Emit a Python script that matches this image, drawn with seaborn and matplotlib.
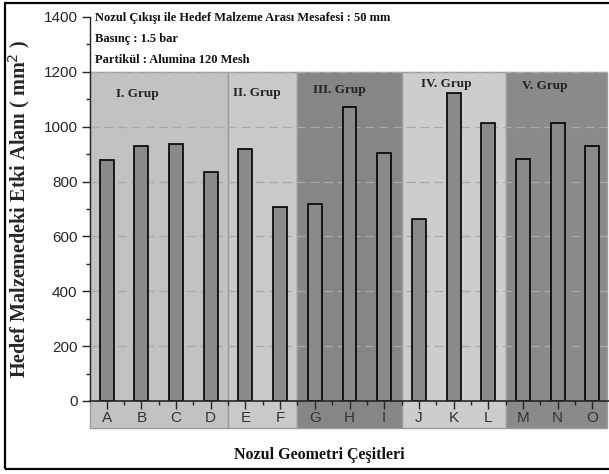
import matplotlib
matplotlib.use("Agg")
import matplotlib.pyplot as plt
from matplotlib.patches import Rectangle
from matplotlib.ticker import MultipleLocator
import seaborn as sns
import pandas as pd

categories = ["A", "B", "C", "D", "E", "F", "G", "H", "I", "J", "K", "L", "M", "N", "O"]
values = [880, 928, 938, 834, 920, 709, 718, 1071, 904, 665, 1123, 1015, 882, 1015, 931]
group_names = ["I. Grup", "II. Grup", "III. Grup", "IV. Grup", "V. Grup"]
group_sizes = [4, 2, 3, 3, 3]
group_colors = ["#c2c2c2", "#c9c9c9", "#868686", "#cdcdcd", "#8a8a8a"]
group_label_pos = [(0.89, 1119), (4.33, 1123), (6.72, 1135), (9.78, 1156), (12.63, 1149)]
info_lines = ["Nozul Çıkışı ile Hedef Malzeme Arası Mesafesi : 50 mm",
              "Basınç : 1.5 bar",
              "Partikül : Alumina 120 Mesh"]

df = pd.DataFrame({"cat": categories, "val": values})

sns.set_style("white")
plt.rcParams["font.family"] = ["Liberation Sans", "DejaVu Sans"]

fig = plt.figure(figsize=(6.09, 4.74), dpi=100)
ax = fig.add_axes([90 / 609, 1 - 401 / 474, 519 / 609, 384 / 474])

# group background bands (extend below axis into label strip)
start = -0.48
band_bottom = -98
for i, (n, col) in enumerate(zip(group_sizes, group_colors)):
    left = start if i == 0 else sum(group_sizes[:i]) - 0.5
    right = sum(group_sizes[:i + 1]) - 0.5
    if i == len(group_sizes) - 1:
        right = 14.43
    ax.add_patch(Rectangle((left, band_bottom), right - left, 1200 - band_bottom,
                           facecolor=col, edgecolor="#9a9a9a", lw=1.0,
                           clip_on=False, zorder=0))

# dashed gridlines
for yv in [200, 400, 600, 800, 1000, 1200]:
    ax.axhline(yv, color="#a9a9a9", lw=0.9, ls=(0, (7, 4)), zorder=0.5)

sns.barplot(data=df, x="cat", y="val", ax=ax, color="#8a8a8a", width=0.4,
            edgecolor="black", linewidth=1.2, saturation=1, zorder=2)

ax.set_xlim(-0.48, 14.48)
ax.set_ylim(0, 1400)

ax.set_yticks([0, 200, 400, 600, 800, 1000, 1200, 1400])
ax.yaxis.set_minor_locator(MultipleLocator(100))
ax.xaxis.set_minor_locator(MultipleLocator(0.5))
ax.tick_params(axis="y", which="major", direction="out", length=6, width=1,
               labelsize=11, pad=3, left=True)
ax.tick_params(axis="y", which="minor", direction="out", length=3, width=1, left=True)
ax.tick_params(axis="x", which="major", direction="out", length=6, width=1,
               labelsize=11, pad=1, bottom=True, labelcolor="#333333")
ax.tick_params(axis="x", which="minor", direction="out", length=3, width=1, bottom=True)

for side in ["top", "right"]:
    ax.spines[side].set_visible(False)
ax.spines["left"].set_linewidth(1.0)
ax.spines["bottom"].set_linewidth(1.2)
ax.spines["left"].set_zorder(3)
ax.patch.set_alpha(0)

ax.set_xlabel("")
ax.set_ylabel("Hedef Malzemedeki Etki Alanı ( mm$^2$ )", family="Liberation Serif",
              fontweight="bold", fontsize=14.5, labelpad=8)

for name, (gx, gy) in zip(group_names, group_label_pos):
    ax.text(gx, gy, name, family="Liberation Serif", fontweight="bold",
            fontsize=9.5, ha="center", va="center", color="#222222", zorder=4)

for i, line in enumerate(info_lines):
    fig.text(95 / 609, 1 - (18 + i * 21) / 474, line, family="Liberation Serif",
             fontweight="bold", fontsize=9, ha="left", va="center", color="#111111")

fig.text(319 / 609, 1 - 455 / 474, "Nozul Geometri Çeşitleri", family="Liberation Serif",
         fontweight="bold", fontsize=11.5, ha="center", va="center", color="#111111")

fig.patches.append(Rectangle((5 / 609, 1 - 469 / 474), 1.0, (466) / 474,
                             transform=fig.transFigure, fill=False,
                             edgecolor="black", lw=1.6))

fig.savefig("out.png", dpi=100)
